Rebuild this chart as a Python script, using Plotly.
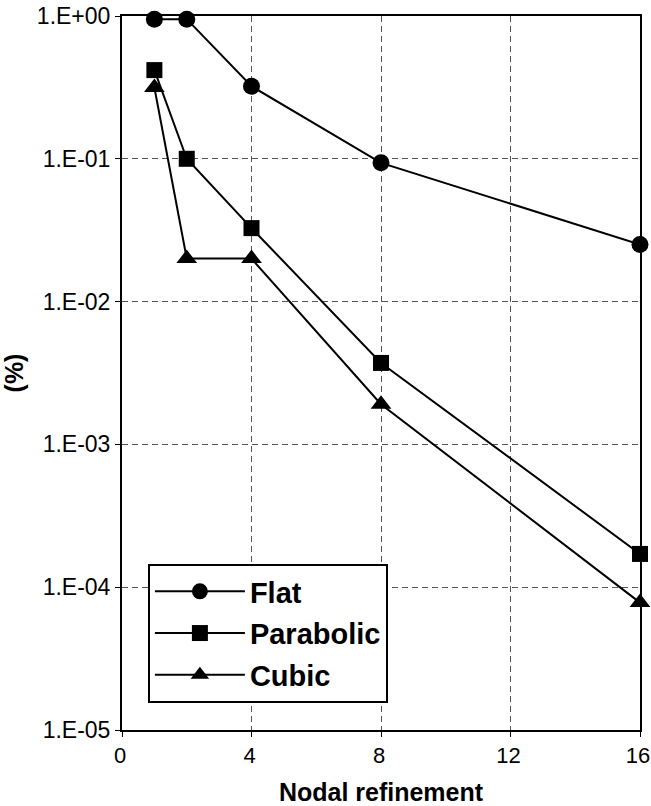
import plotly.graph_objects as go

x_vals = [1, 2, 4, 8, 16]
flat = [0.95, 0.95, 0.322, 0.0937, 0.0251]
parabolic = [0.418, 0.100, 0.0327, 0.00372, 0.000171]
cubic = [0.316, 0.0200, 0.0200, 0.00191, 0.000078]

series_names = ["Flat", "Parabolic", "Cubic"]
series_symbols = ["circle", "square", "triangle-up"]
series_sizes = [17, 16, 18]

y_tickvals = [1e0, 1e-1, 1e-2, 1e-3, 1e-4, 1e-5]
y_ticktext = ["1.E+00", "1.E-01", "1.E-02", "1.E-03", "1.E-04", "1.E-05"]
x_tickvals = [0, 4, 8, 12, 16]

fig = go.Figure()
for name, ys, sym, sz in zip(series_names, [flat, parabolic, cubic], series_symbols, series_sizes):
    fig.add_trace(go.Scatter(
        x=x_vals, y=ys, mode="lines+markers", name=name, legendgroup=name,
        line=dict(color="black", width=2),
        marker=dict(symbol=sym, size=sz, color="black"),
        cliponaxis=False,
    ))

font_family = "Liberation Sans, Arial, sans-serif"
fig.update_layout(
    width=651, height=806,
    margin=dict(l=122, r=11, t=16, b=76, autoexpand=False),
    paper_bgcolor="white", plot_bgcolor="white",
    font=dict(family=font_family, color="black", size=23),
    showlegend=True,
    legend=dict(
        x=0.05, y=0.2325, xanchor="left", yanchor="top",
        bgcolor="white", bordercolor="black", borderwidth=2,
        font=dict(family=font_family, size=29, color="black", weight="bold"),
        traceorder="grouped", tracegroupgap=1, itemwidth=90,
    ),
    xaxis=dict(
        range=[0, 16], tickvals=x_tickvals, ticks="outside", ticklen=5,
        tickcolor="black", showline=True, linecolor="black", linewidth=2, mirror=True,
        showgrid=True, gridcolor="#555555", gridwidth=1, griddash="6px,4px",
        zeroline=False, automargin=False, ticklabeloverflow="allow",
        tickfont=dict(size=22), ticklabelshift=-2,
        title=dict(text="Nodal refinement", font=dict(size=25, weight="bold"), standoff=27),
    ),
    yaxis=dict(
        type="log", range=[-5, 0], tickvals=y_tickvals, ticktext=y_ticktext,
        ticks="outside", ticklen=5, tickcolor="black",
        showline=True, linecolor="black", linewidth=2, mirror=True,
        showgrid=True, gridcolor="#555555", gridwidth=1, griddash="6px,4px",
        zeroline=False, automargin=False, ticklabeloverflow="allow",
        title=dict(text="(%)", font=dict(size=25, weight="bold"), standoff=6),
    ),
)

fig.write_html("out.html")
